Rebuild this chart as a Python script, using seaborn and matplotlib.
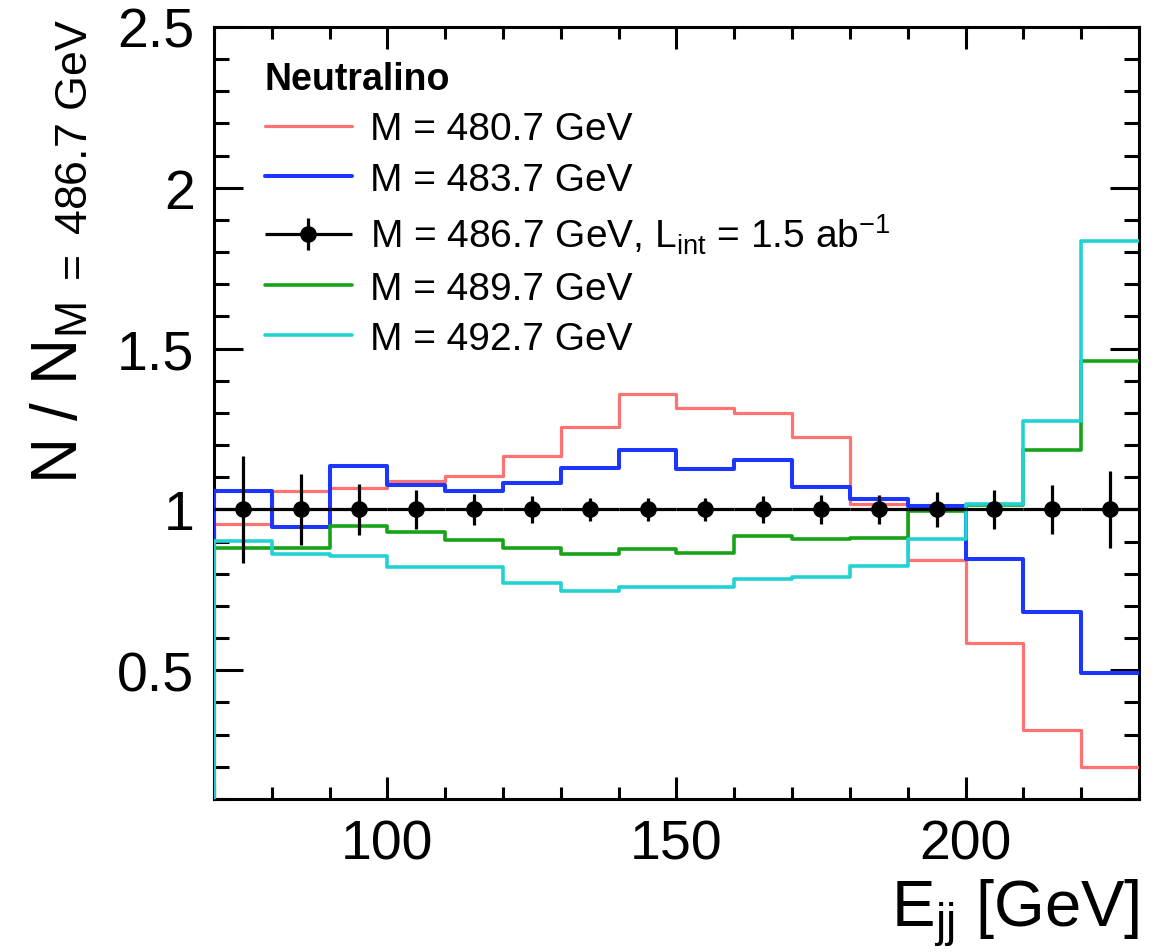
import numpy as np
import pandas as pd
import matplotlib
matplotlib.use("Agg")
import matplotlib.pyplot as plt
import seaborn as sns
from matplotlib.ticker import MultipleLocator, FixedLocator, FixedFormatter
from matplotlib.container import ErrorbarContainer
from matplotlib.legend_handler import HandlerErrorbar

# ---------------- data ----------------
bin_edges = [70, 80, 90, 100, 110, 120, 130, 140, 150, 160, 170, 180, 190, 200, 210, 220, 230]
bin_centers = [75, 85, 95, 105, 115, 125, 135, 145, 155, 165, 175, 185, 195, 205, 215, 225]

ratio_480 = [0.954, 1.057, 1.067, 1.088, 1.103, 1.165, 1.255, 1.358, 1.316, 1.299, 1.224, 1.016, 0.842, 0.585, 0.314, 0.200]
ratio_483 = [1.057, 0.945, 1.134, 1.075, 1.057, 1.083, 1.129, 1.186, 1.127, 1.155, 1.069, 1.034, 1.010, 0.845, 0.680, 0.491]
ratio_489 = [0.879, 0.879, 0.949, 0.931, 0.904, 0.879, 0.863, 0.876, 0.866, 0.918, 0.907, 0.912, 0.995, 1.014, 1.186, 1.461]
ratio_492 = [0.902, 0.861, 0.856, 0.820, 0.822, 0.773, 0.747, 0.758, 0.758, 0.784, 0.791, 0.825, 0.907, 1.018, 1.274, 1.836]

ratio_486 = [1.0] * 16
err_486 = [0.165, 0.109, 0.080, 0.060, 0.049, 0.042, 0.037, 0.036, 0.036, 0.041, 0.045, 0.045, 0.053, 0.062, 0.077, 0.120]

labels = ["M = 480.7 GeV", "M = 483.7 GeV",
          r"M = 486.7 GeV, L$_{\mathrm{int}}$ = 1.5 ab$^{\mathrm{-1}}$",
          "M = 489.7 GeV", "M = 492.7 GeV"]
legend_title = "Neutralino"

xtick_values = [100, 150, 200]
xtick_labels = ["100", "150", "200"]
ytick_values = [0.5, 1.0, 1.5, 2.0, 2.5]
ytick_labels = ["0.5", "1", "1.5", "2", "2.5"]

# ---------------- style ----------------
sns.set_theme(style="ticks")
plt.rcParams["font.family"] = ["Liberation Sans", "DejaVu Sans"]
plt.rcParams["mathtext.fontset"] = "custom"
plt.rcParams["mathtext.rm"] = "Liberation Sans"
plt.rcParams["mathtext.it"] = "Liberation Sans:italic"
plt.rcParams["mathtext.bf"] = "Liberation Sans:bold"
for k in ["text.color", "axes.labelcolor", "xtick.color", "ytick.color", "axes.edgecolor"]:
    plt.rcParams[k] = "black"

fig = plt.figure(figsize=(11.54, 9.53), dpi=100)
ax = fig.add_axes([0.18544, 0.16055, 0.80156, 0.81007])

colors = {"480": "#ff7272", "483": "#1c36ff", "489": "#17a217", "492": "#22d2d2"}
widths = {"480": 2.3, "483": 2.9, "489": 2.6, "492": 2.6}


def step_frame(vals):
    xs = [bin_edges[0]] + list(bin_edges)
    ys = [0.0] + list(vals) + [vals[-1]]
    return pd.DataFrame({"x": xs, "y": ys})


handles = []
for key, vals in [("480", ratio_480), ("483", ratio_483), ("489", ratio_489), ("492", ratio_492)]:
    d = step_frame(vals)
    sns.lineplot(data=d, x="x", y="y", ax=ax, drawstyle="steps-post", estimator=None,
                 sort=False, color=colors[key], linewidth=widths[key], zorder=3)
    handles.append(ax.lines[-1])

eb = ax.errorbar(bin_centers, ratio_486, xerr=5, yerr=err_486, fmt="o", color="black",
                 ms=11, elinewidth=2.3, capsize=0, zorder=5)

ax.set_xlim(70, 230)
ax.set_ylim(0.1, 2.5)

ax.xaxis.set_major_locator(FixedLocator(xtick_values))
ax.xaxis.set_major_formatter(FixedFormatter(xtick_labels))
ax.xaxis.set_minor_locator(MultipleLocator(10))
ax.yaxis.set_major_locator(FixedLocator(ytick_values))
ax.yaxis.set_major_formatter(FixedFormatter(ytick_labels))
ax.yaxis.set_minor_locator(MultipleLocator(0.1))

ax.tick_params(which="both", direction="in", top=True, right=True, colors="black")
ax.tick_params(axis="y", which="major", length=21, width=2.2, labelsize=40, pad=14)
ax.tick_params(axis="y", which="minor", length=11, width=2.2)
ax.tick_params(axis="x", which="major", length=16, width=2.2, labelsize=40, pad=14)
ax.tick_params(axis="x", which="minor", length=8.5, width=2.2)
for s in ax.spines.values():
    s.set_linewidth(2.2)
    s.set_color("black")

ax.set_xlabel(r"E$_{\mathrm{jj}}$ [GeV]", fontsize=47, loc="right", labelpad=5)
ax.set_ylabel(r"N / N$_{\mathrm{M\ =\ 486.7\ GeV}}$", fontsize=46, loc="top", labelpad=20)
ax.yaxis.label.set_y(1.011)

leg_handles = [handles[0], handles[1], eb, handles[2], handles[3]]
leg = ax.legend(leg_handles, labels, title=legend_title, loc="upper left",
                bbox_to_anchor=(0.055, 0.956), frameon=False, fontsize=28,
                title_fontproperties={"weight": "bold", "size": 27},
                handlelength=2.24, handletextpad=0.46, labelspacing=0.37,
                borderaxespad=0, borderpad=0, alignment="left",
                handler_map={ErrorbarContainer: HandlerErrorbar(xerr_size=1.12, yerr_size=0.41)})

fig.savefig("out.png", dpi=100)
